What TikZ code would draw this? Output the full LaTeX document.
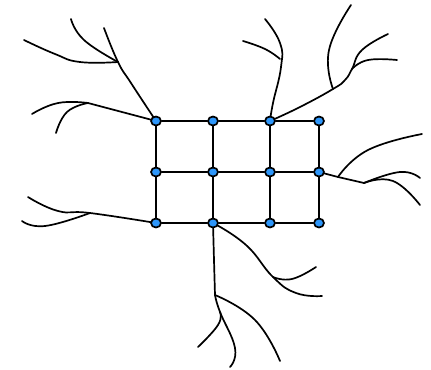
\documentclass[tikz,border=0pt]{standalone}
\usetikzlibrary{backgrounds,shapes.geometric}
\tikzset{
  x=1bp,y=-1bp,
  wire/.style={draw=black,line width=1.7bp,line cap=round,line join=round},
  junction/.style={shape=ellipse,draw=black,fill=dotblue,line width=1.7bp,minimum width=10bp,minimum height=9bp,inner sep=0pt},
}
\definecolor{dotblue}{RGB}{45,150,250}
\newcommand{\curve}[1]{\draw[wire] plot[smooth,tension=0.8] coordinates {#1};}
\begin{document}
\begin{tikzpicture}
\useasboundingbox (0,0) rectangle (431,370);
\foreach \n/\x in {1/156,2/213,3/270,4/319}{
  \node[junction] (a\n) at (\x,121) {};
  \node[junction] (b\n) at (\x,172) {};
  \node[junction] (c\n) at (\x,223) {};
}
\coordinate (tl) at (118,62);
\coordinate (lf) at (88,103);
\coordinate (bl) at (90,213);
\coordinate (tm) at (280,59);
\coordinate (tr1) at (333,89);
\coordinate (tr2) at (345,80);
\coordinate (tr3) at (352,69);
\coordinate (r1) at (338,177);
\coordinate (r2) at (364,183);
\coordinate (s1) at (215,295);
\coordinate (s2) at (220,312);
\coordinate (d1) at (273,277);
\begin{scope}[on background layer]
\foreach \n in {1,2,3,4}{\draw[wire] (a\n) -- (b\n) -- (c\n);}
\foreach \r in {a,b,c}{\draw[wire] (\r1) -- (\r2) -- (\r3) -- (\r4);}
% top left
\curve{(a1) (131,83) (tl) (104,28)}
\curve{(tl) (84,40) (71,19)}
\curve{(tl) (80,62) (55,54) (24,40)}
% left
\draw[wire] (a1) -- (lf);
\curve{(lf) (58,103) (32,114)}
\curve{(lf) (67,112) (56,133)}
% bottom left
\curve{(c1) (bl) (58,211) (28,197)}
\curve{(bl) (45,226) (22,221)}
% top middle
\curve{(a3) (273,103) (281,67) (280,43) (265,19)}
\curve{(tm) (265,49) (243,41)}
% top right
\curve{(a3) (300,107) (tr1) (tr2) (tr3) (362,50) (388,34)}
\curve{(tr1) (329,50) (351,5)}
\curve{(tr3) (368,60) (397,60)}
% right
\draw[wire] (b4) -- (r1) -- (r2);
\curve{(r1) (368,150) (422,134)}
\curve{(r2) (400,172) (420,178)}
\curve{(r2) (393,181) (420,205)}
% bottom
\curve{(c2) (214,260) (s1)}
\curve{(s1) (s2) (235,348) (230,367)}
\curve{(s2) (218,325) (198,347)}
\curve{(s1) (255,320) (280,361)}
\curve{(c2) (246,245) (d1) (296,293) (322,296)}
\curve{(d1) (292,279) (316,267)}
\end{scope}
\end{tikzpicture}
\end{document}
